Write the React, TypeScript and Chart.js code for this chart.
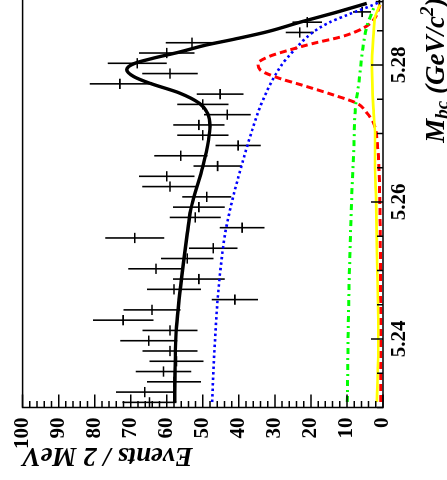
import React, { useEffect, useRef } from "react";
import { Chart, registerables } from "chart.js";

Chart.register(...registerables);

// ---- data (M_bc in GeV/c^2, events per bin) ----
const binHalfWidth = 0.00075;
const mbcBins = [
  5.23075, 5.23225, 5.23375, 5.23525, 5.23675, 5.23825, 5.23975, 5.24125, 5.24275, 5.24425,
  5.24575, 5.24725, 5.24875, 5.25025, 5.25175, 5.25325, 5.25475, 5.25625, 5.25775, 5.25925,
  5.26075, 5.26225, 5.26375, 5.26525, 5.26675, 5.26825, 5.26975, 5.27125, 5.27275, 5.27425,
  5.27575, 5.27725, 5.27875, 5.28025, 5.28175, 5.28325, 5.28475, 5.28625, 5.28775, 5.28925,
];
const counts = [
  64.8, 66.1, 58.0, 60.9, 57.3, 59.1, 65.0, 59.1, 72.1, 64.1,
  41.1, 58.0, 51.1, 63.0, 54.3, 47.1, 68.9, 39.1, 52.1, 51.1,
  48.9, 59.1, 60.0, 45.9, 56.1, 40.2, 50.0, 51.1, 43.2, 50.0,
  45.2, 73.0, 59.1, 68.2, 60.0, 53.0, 23.1, 21.0, 5.8, 1.0,
];
const errors = [
  7.5, 8.0, 7.5, 7.7, 7.5, 7.6, 7.9, 7.6, 8.4, 7.9,
  6.4, 7.5, 7.2, 7.7, 7.3, 6.7, 8.2, 6.2, 7.1, 7.2,
  6.8, 7.7, 7.7, 6.7, 7.4, 6.3, 7.1, 7.1, 6.5, 7.1,
  6.5, 8.4, 7.7, 8.2, 7.7, 7.3, 3.9, 4.1, 2.5, 1.0,
];

// total fit (black solid)
const totalM = [5.2308, 5.235, 5.2384, 5.2418, 5.2457, 5.2506, 5.2554, 5.2588, 5.2603, 5.2652, 5.2691, 5.271, 5.2729, 5.2744, 5.2759, 5.2773, 5.2783, 5.2793, 5.2802, 5.281, 5.2819, 5.2829, 5.2838, 5.2849, 5.2863, 5.2876, 5.289];
const totalY = [57.8, 57.7, 57.6, 57.3, 56.6, 55.5, 54.3, 53.4, 52.7, 50.0, 48.4, 48.0, 48.6, 50.9, 56.4, 64.5, 69.1, 71.1, 69.1, 63.7, 56.4, 49.2, 41.0, 31.8, 22.7, 13.6, 4.5];
// continuum (blue dotted)
const contM = [5.2308, 5.236, 5.2408, 5.2457, 5.2506, 5.2554, 5.2603, 5.2652, 5.27, 5.2749, 5.2798, 5.2822, 5.2846, 5.2861, 5.2875, 5.2888, 5.2892];
const contY = [47.4, 47.0, 46.5, 45.9, 45.0, 43.8, 41.8, 39.3, 36.6, 33.3, 28.4, 24.6, 19.9, 15.3, 9.0, 2.6, 1.0];
// signal (red dashed)
const sigM = [5.2308, 5.25, 5.2603, 5.268, 5.2715, 5.273, 5.2744, 5.2756, 5.2771, 5.2781, 5.2793, 5.2802, 5.2812, 5.2822, 5.2832, 5.2841, 5.2854, 5.2866, 5.2888];
const sigY = [0.6, 0.7, 0.9, 1.5, 2.6, 4.5, 7.2, 13.6, 22.7, 29.0, 34.1, 34.7, 31.8, 25.9, 19.0, 11.7, 5.4, 2.6, 0.8];
// B background (green dash-dot)
const bkgM = [5.2308, 5.2457, 5.2603, 5.2676, 5.2735, 5.2774, 5.2832, 5.2856, 5.2876, 5.2888];
const bkgY = [9.9, 9.5, 8.7, 8.1, 7.7, 6.7, 5.4, 4.5, 3.1, 2.2];
// other component (yellow solid)
const othM = [5.2308, 5.24, 5.25, 5.2603, 5.265, 5.27, 5.273, 5.2798, 5.2846, 5.287, 5.2888];
const othY = [1.7, 1.3, 1.6, 1.9, 2.2, 2.2, 2.6, 3.1, 2.6, 2.2, 0.8];

const eventTicks = [0, 10, 20, 30, 40, 50, 60, 70, 80, 90, 100];
const mbcTicks = [5.24, 5.26, 5.28];

const W = 490;
const H = 447;
const SERIF = '"Liberation Serif", "Times New Roman", serif';

export default function App() {
  const ref = useRef<HTMLCanvasElement>(null);

  useEffect(() => {
    const canvas = ref.current;
    if (!canvas) return;
    const pts = (xs: number[], ys: number[]) => xs.map((x, i) => ({ x, y: ys[i] }));

    const errPlugin = {
      id: "errbars",
      beforeDatasetsDraw(chart: any) {
        const { ctx, chartArea: a } = chart;
        const xs = chart.scales.x;
        const ys = chart.scales.y;
        ctx.save();
        ctx.beginPath();
        ctx.rect(a.left, a.top, a.right - a.left, a.bottom - a.top);
        ctx.clip();
        ctx.strokeStyle = "#000";
        ctx.lineWidth = 1.6;
        ctx.beginPath();
        mbcBins.forEach((m, i) => {
          const px = xs.getPixelForValue(m);
          const py = ys.getPixelForValue(counts[i]);
          ctx.moveTo(px, ys.getPixelForValue(counts[i] + errors[i]));
          ctx.lineTo(px, ys.getPixelForValue(Math.max(0, counts[i] - errors[i])));
          ctx.moveTo(xs.getPixelForValue(m - binHalfWidth), py);
          ctx.lineTo(xs.getPixelForValue(m + binHalfWidth), py);
        });
        ctx.stroke();
        ctx.restore();
      },
    };

    const framePlugin = {
      id: "frame",
      afterDraw(chart: any) {
        const { ctx, chartArea: a } = chart;
        const xs = chart.scales.x;
        const ys = chart.scales.y;
        ctx.save();
        ctx.strokeStyle = "#000";
        ctx.lineWidth = 1.5;
        ctx.strokeRect(a.left, a.top, a.right - a.left, a.bottom - a.top);
        ctx.beginPath();
        for (let v = 0; v <= 100; v += 2) {
          const py = ys.getPixelForValue(v);
          const len = v % 10 === 0 ? 13 : 6.5;
          ctx.moveTo(a.left, py);
          ctx.lineTo(a.left + len, py);
        }
        for (let k = 0; k <= 12; k++) {
          const m = 5.23 + k * 0.005;
          const px = xs.getPixelForValue(m);
          const major = mbcTicks.some((t) => Math.abs(t - m) < 1e-6);
          const len = major ? 12 : 6;
          ctx.moveTo(px, a.bottom);
          ctx.lineTo(px, a.bottom - len);
        }
        ctx.stroke();

        ctx.fillStyle = "#000";
        // y title
        ctx.save();
        ctx.translate(32, a.top);
        ctx.rotate(-Math.PI / 2);
        ctx.textAlign = "right";
        ctx.textBaseline = "alphabetic";
        ctx.font = `italic bold 27px ${SERIF}`;
        ctx.fillText("Events / 2 MeV", 0, 0);
        ctx.restore();

        // x title with sub/superscripts
        const big = `italic bold 27px ${SERIF}`;
        const small = `italic bold 19px ${SERIF}`;
        const parts = [
          { t: "M", f: big, dy: 0 },
          { t: "bc", f: small, dy: 4 },
          { t: " (GeV/c", f: big, dy: 0 },
          { t: "2", f: small, dy: -11 },
          { t: ")", f: big, dy: 0 },
        ];
        ctx.textAlign = "left";
        ctx.textBaseline = "alphabetic";
        let total = 0;
        parts.forEach((p) => {
          ctx.font = p.f;
          total += ctx.measureText(p.t).width;
        });
        let x = a.right - 1 - total;
        const base = 443.5;
        parts.forEach((p) => {
          ctx.font = p.f;
          ctx.fillText(p.t, x, base + p.dy);
          x += ctx.measureText(p.t).width;
        });
        ctx.restore();
      },
    };

    const line = (data: any, color: string, width: number, dash: number[], order: number) => ({
      type: "line",
      data,
      borderColor: color,
      backgroundColor: color,
      borderWidth: width,
      borderDash: dash,
      borderCapStyle: "butt",
      pointRadius: 0,
      pointHoverRadius: 0,
      fill: false,
      cubicInterpolationMode: "monotone",
      order,
    });

    const chart = new Chart(canvas, {
      type: "line",
      data: {
        datasets: [
          line(pts(totalM, totalY), "#000000", 3.4, [], 5),
          line(pts(contM, contY), "#0000ff", 2.6, [2.5, 3], 4),
          line(pts(sigM, sigY), "#ff0000", 3, [7, 4], 3),
          line(pts(bkgM, bkgY), "#00ff00", 3, [6, 4, 2, 4], 2),
          line(pts(othM, othY), "#ffff00", 2.6, [], 1),
        ] as any,
      },
      options: {
        animation: false,
        responsive: false,
        devicePixelRatio: 1,
        events: [],
        layout: { padding: { left: 0, right: W - 483.5, top: 17, bottom: 0 } },
        plugins: { legend: { display: false }, tooltip: { enabled: false }, title: { display: false } },
        scales: {
          x: {
            type: "linear",
            position: "bottom",
            min: 5.23,
            max: 5.29,
            grid: { display: false, drawTicks: false },
            border: { display: false },
            ticks: {
              color: "#000",
              font: { family: SERIF, size: 21, weight: "bold" },
              padding: 4,
              maxRotation: 0,
              minRotation: 0,
              autoSkip: false,
              callback: (v: any) => Number(v).toFixed(2),
            },
            afterBuildTicks: (s: any) => {
              s.ticks = mbcTicks.map((v) => ({ value: v }));
            },
            afterFit: (s: any) => {
              s.height = H - 383;
            },
          },
          y: {
            type: "linear",
            position: "left",
            min: 0,
            max: 100,
            grid: { display: false, drawTicks: false },
            border: { display: false },
            ticks: {
              color: "#000",
              font: { family: SERIF, size: 21, weight: "bold" },
              padding: 10,
              autoSkip: false,
              callback: (v: any) => String(v),
            },
            afterBuildTicks: (s: any) => {
              s.ticks = eventTicks.map((v) => ({ value: v }));
            },
            afterFit: (s: any) => {
              s.width = 72.5;
            },
          },
        },
      } as any,
      plugins: [errPlugin, framePlugin],
    });
    return () => chart.destroy();
  }, []);

  return (
    <div
      style={{
        position: "fixed",
        left: 0,
        top: 0,
        width: 447,
        height: 480,
        overflow: "hidden",
        background: "#fff",
      }}
    >
      <canvas
        ref={ref}
        width={W}
        height={H}
        style={{
          position: "absolute",
          left: 0,
          top: 0,
          width: W,
          height: H,
          transformOrigin: "0 0",
          transform: "translate(0px, 480px) rotate(-90deg)",
        }}
      />
    </div>
  );
}
